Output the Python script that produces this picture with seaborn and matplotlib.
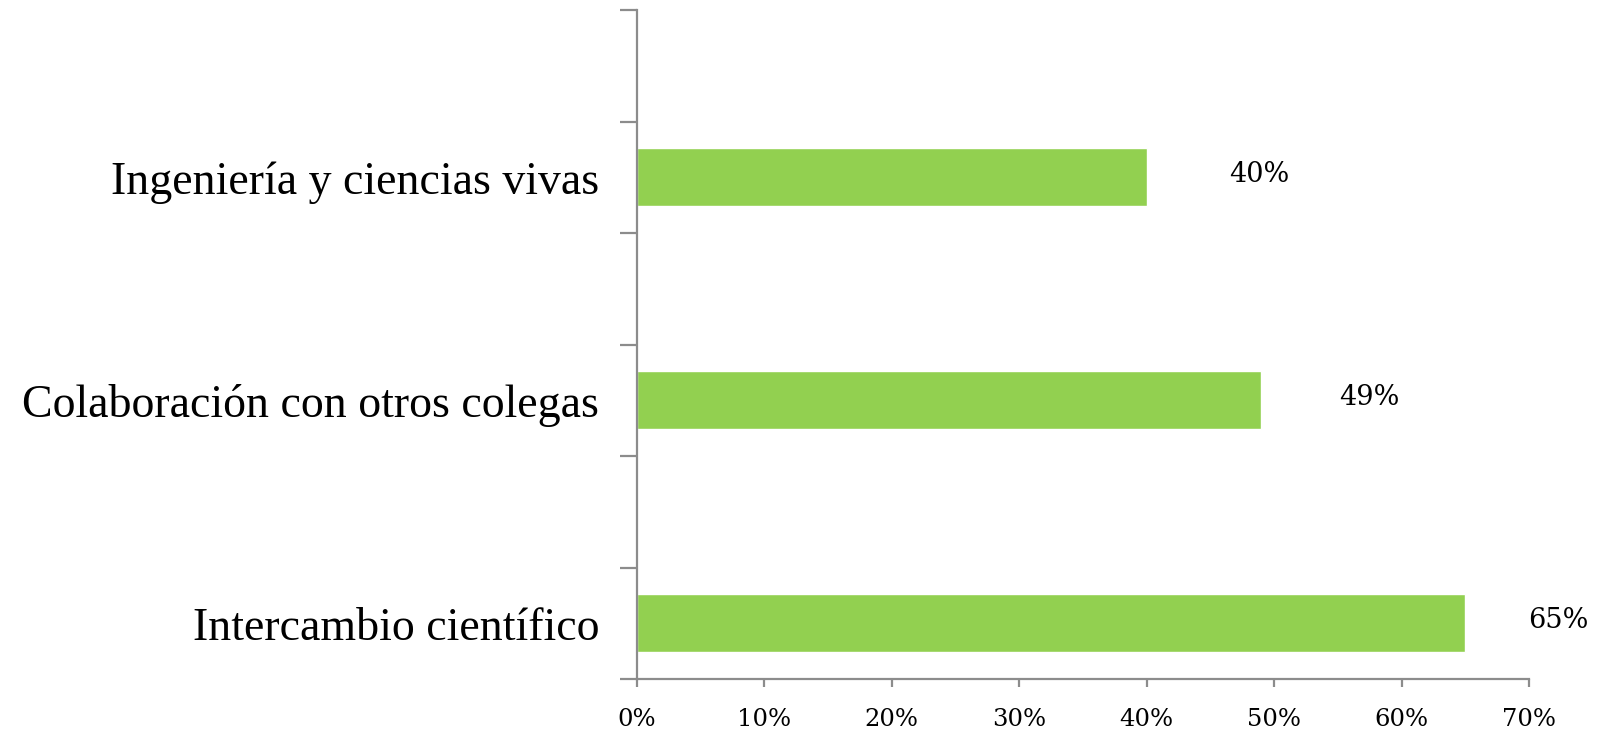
import matplotlib
matplotlib.use("Agg")
import matplotlib.pyplot as plt
import seaborn as sns
import pandas as pd
from matplotlib.ticker import PercentFormatter, FixedLocator

categories = ["Ingeniería y ciencias vivas", "Colaboración con otros colegas", "Intercambio científico"]
values = [0.40, 0.49, 0.65]
value_labels = ["40%", "49%", "65%"]
x_ticks = [0.0, 0.1, 0.2, 0.3, 0.4, 0.5, 0.6, 0.7]

# horizontal gap (pixels) between bar end and its value label
label_gap_px = [82, 78, 63]

sns.set_theme(style="white")
plt.rcParams["font.family"] = ["DejaVu Serif"]

df = pd.DataFrame({"categoria": categories, "valor": values})

fig = plt.figure(figsize=(16.08, 7.33), dpi=100)
ax = fig.add_axes([0.396, 0.0737, 0.555, 0.9123])

sns.barplot(data=df, x="valor", y="categoria", orient="h", color="#92D050",
            saturation=1, width=0.26, ax=ax)

ax.set_xlim(0, 0.7)
ax.set_ylim(2.25, -0.75)
ax.set_xlabel("")
ax.set_ylabel("")

grey = "#8c8c8c"
for side in ["top", "right"]:
    ax.spines[side].set_visible(False)
for side in ["left", "bottom"]:
    ax.spines[side].set_color(grey)
    ax.spines[side].set_linewidth(1.6)

ax.xaxis.set_major_locator(FixedLocator(x_ticks))
ax.xaxis.set_major_formatter(PercentFormatter(1.0, decimals=0))
ax.tick_params(axis="x", which="major", direction="out", length=6, width=1.6,
               color=grey, labelsize=17.5, pad=15, labelcolor="black", bottom=True)

ax.set_yticks(range(len(categories)))
ax.set_yticklabels(categories, fontfamily="Liberation Serif", fontsize=33)
ax.tick_params(axis="y", which="major", length=0, pad=27, labelcolor="black", left=True)
ax.yaxis.set_minor_locator(FixedLocator([-0.75 + 0.5 * k for k in range(7)]))
ax.tick_params(axis="y", which="minor", direction="out", length=12, width=1.6,
               color=grey, left=True)

for i, (v, lab, gap) in enumerate(zip(values, value_labels, label_gap_px)):
    ax.annotate(lab, xy=(v, i), xytext=(gap * 0.72, 2), textcoords="offset points",
                ha="left", va="center", fontsize=19.5, color="black")

fig.savefig("out.png", dpi=100)
